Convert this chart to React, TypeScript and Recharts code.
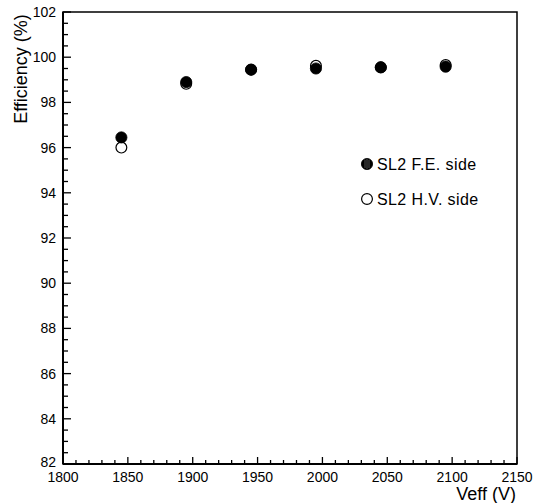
import React from 'react';
import { ScatterChart, Scatter, XAxis, YAxis, ReferenceArea } from 'recharts';

const voltages = [1845, 1895, 1945, 1995, 2045, 2095];
const feSide = [96.45, 98.9, 99.45, 99.5, 99.55, 99.58];
const hvSide = [96.0, 98.82, 99.45, 99.62, 99.55, 99.65];

const xMajorTicks = [1800, 1850, 1900, 1950, 2000, 2050, 2100, 2150];
const yMajorTicks = [82, 84, 86, 88, 90, 92, 94, 96, 98, 100, 102];
const xMinorStep = 10;
const yMinorStep = 0.5;

const xAllTicks: number[] = [];
for (let v = 1800; v <= 2150; v += xMinorStep) xAllTicks.push(v);
const yAllTicks: number[] = [];
for (let v = 82; v <= 102.001; v += yMinorStep) yAllTicks.push(Math.round(v * 10) / 10);

const feData = voltages.map((v, i) => ({ x: v, y: feSide[i] }));
const hvData = voltages.map((v, i) => ({ x: v, y: hvSide[i] }));

const FONT = '"Liberation Sans", Arial, Helvetica, sans-serif';

const XTick = (props: any) => {
  const { x, y, payload } = props;
  const v = payload.value;
  const major = xMajorTicks.includes(v);
  return (
    <g>
      <line x1={x} x2={x} y1={y} y2={y - (major ? 7 : 4)} stroke="#000" strokeWidth={1.3} />
      {major && (
        <text x={x} y={y + 18} textAnchor="middle" fontSize={14} fontFamily={FONT} fill="#000">
          {v}
        </text>
      )}
    </g>
  );
};

const YTick = (props: any) => {
  const { x, y, payload } = props;
  const v = payload.value;
  const major = yMajorTicks.includes(v);
  return (
    <g>
      <line x1={x} x2={x + (major ? 8 : 5)} y1={y} y2={y} stroke="#000" strokeWidth={1.3} />
      {major && (
        <text x={x - 7} y={y + (v === 82 ? 3 : 5)} textAnchor="end" fontSize={14} fontFamily={FONT} fill="#000">
          {v}
        </text>
      )}
    </g>
  );
};

const FilledDot = (p: any) => <circle cx={p.cx} cy={p.cy} r={5.6} fill="#000" stroke="#000" strokeWidth={0.8} />;
const OpenDot = (p: any) => <circle cx={p.cx} cy={p.cy} r={5.4} fill="#fff" stroke="#000" strokeWidth={1.2} />;

export default function App() {
  return (
    <div style={{ position: 'absolute', left: 0, top: 0, width: 534, height: 503, background: '#fff' }}>
      <ScatterChart width={534} height={503} margin={{ top: 12, right: 17, bottom: 0, left: 0 }}>
        <XAxis
          type="number"
          dataKey="x"
          domain={[1800, 2150]}
          ticks={xAllTicks}
          interval={0}
          tick={<XTick />}
          tickLine={false}
          tickSize={0}
          tickMargin={0}
          height={39}
          axisLine={{ stroke: '#000', strokeWidth: 2 }}
          allowDataOverflow
        />
        <YAxis
          type="number"
          dataKey="y"
          domain={[82, 102]}
          ticks={yAllTicks}
          interval={0}
          tick={<YTick />}
          tickLine={false}
          tickSize={0}
          tickMargin={0}
          width={63}
          axisLine={{ stroke: '#000', strokeWidth: 2 }}
          allowDataOverflow
        />
        <ReferenceArea x1={1800} x2={2150} y1={82} y2={102} fill="none" stroke="#000" strokeWidth={1.5} fillOpacity={0} />
        <Scatter data={hvData} shape={<OpenDot />} isAnimationActive={false} />
        <Scatter data={feData} shape={<FilledDot />} isAnimationActive={false} />
      </ScatterChart>
      <svg width={534} height={503} style={{ position: 'absolute', left: 0, top: 0, pointerEvents: 'none' }}>
        <text
          transform="translate(27,69) rotate(-90)"
          textAnchor="middle"
          fontSize={18}
          fontFamily={FONT}
          fill="#000"
        >
          Efficiency (%)
        </text>
        <text x={516} y={500} textAnchor="end" fontSize={18} fontFamily={FONT} fill="#000">
          Veff (V)
        </text>
        <circle cx={367} cy={164} r={5.6} fill="#000" stroke="#000" strokeWidth={0.8} />
        <line x1={365} x2={365} y1={160} y2={168} stroke="#777" strokeWidth={0.7} />
        <line x1={367} x2={367} y1={159} y2={169} stroke="#777" strokeWidth={0.7} />
        <line x1={369} x2={369} y1={160} y2={168} stroke="#777" strokeWidth={0.7} />
        <text x={377} y={170} fontSize={16} letterSpacing={0.4} fontFamily={FONT} fill="#000">
          SL2 F.E. side
        </text>
        <circle cx={367} cy={199} r={5.4} fill="#fff" stroke="#000" strokeWidth={1.2} />
        <text x={377} y={205} fontSize={16} letterSpacing={0.4} fontFamily={FONT} fill="#000">
          SL2 H.V. side
        </text>
      </svg>
    </div>
  );
}
